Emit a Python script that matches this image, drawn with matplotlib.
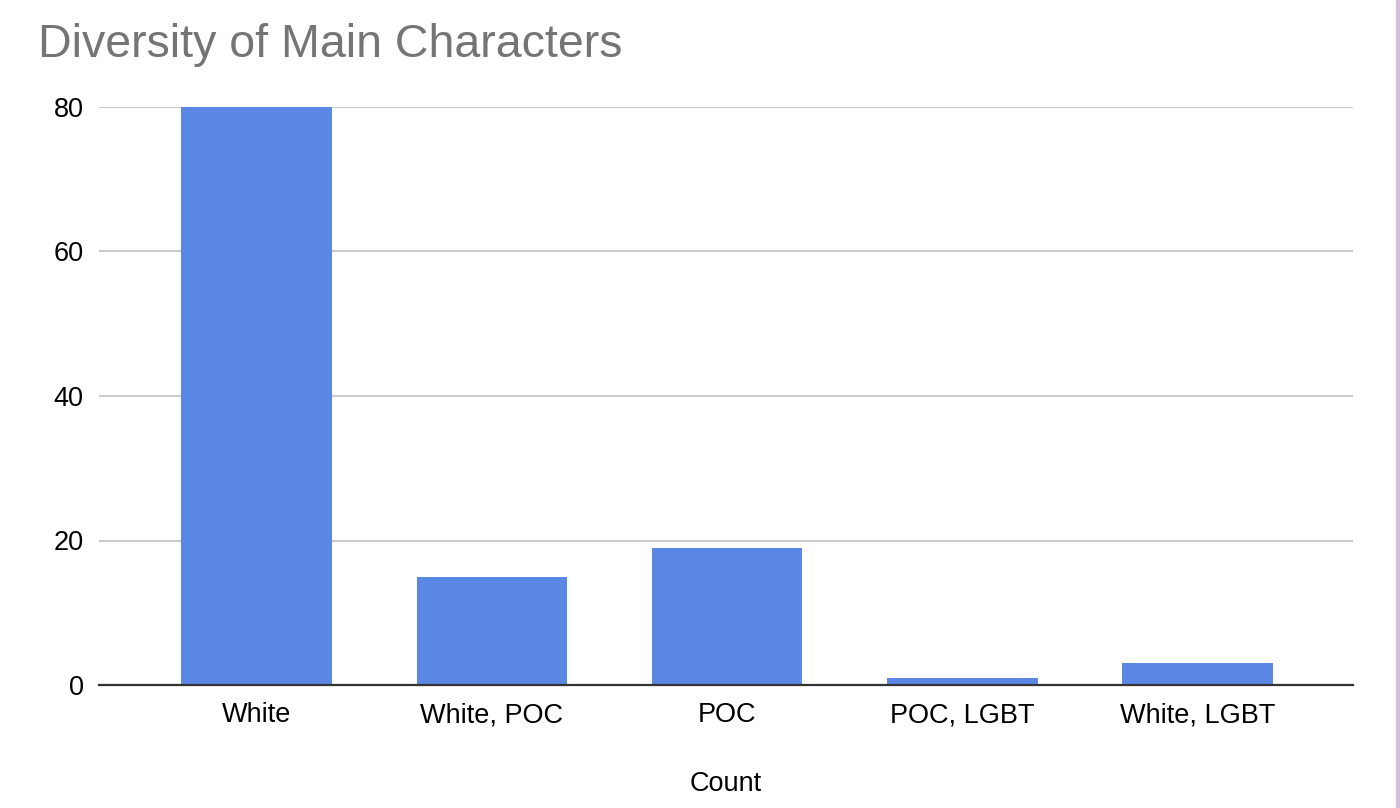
import matplotlib
matplotlib.use("Agg")
import matplotlib.pyplot as plt
from matplotlib.patches import Rectangle

# Chart data
categories = ["White", "White, POC", "POC", "POC, LGBT", "White, LGBT"]
counts = [80, 15, 19, 1, 3]
y_ticks = [0, 20, 40, 60, 80]

bar_color = "#5b87e5"
plt.rcParams['font.family'] = ['Liberation Sans', 'DejaVu Sans']


def main():
    fig = plt.figure(figsize=(14, 8.08), dpi=100)
    ax = fig.add_axes([99 / 1400, 1 - 685 / 808, (1353 - 99) / 1400, (685 - 107) / 808])

    x = list(range(len(categories)))
    ax.bar(x, counts, width=0.64, color=bar_color, zorder=3)

    ax.set_xlim(-0.67, len(categories) - 0.34)
    ax.set_ylim(0, 80)
    ax.set_yticks(y_ticks)
    ax.set_xticks(x)
    ax.set_xticklabels(categories, fontsize=19.5)
    ax.tick_params(axis='y', length=0, pad=11, labelsize=19.5)
    ax.tick_params(axis='x', length=0, pad=12.5)

    # Gridlines and baseline
    ax.grid(axis='y', color='#cccccc', linewidth=1.5, zorder=0)
    for side in ['top', 'right', 'left']:
        ax.spines[side].set_visible(False)
    ax.spines['bottom'].set_color('#333333')
    ax.spines['bottom'].set_linewidth(1.6)
    ax.spines['bottom'].set_zorder(4)

    ax.set_xlabel("Count", fontsize=19.5, labelpad=31)

    fig.text(38 / 1400, 1 - 57 / 808, "Diversity of Main Characters",
             fontsize=33.5, color='#757575', va='baseline', ha='left')

    # Thin lavender strip on the right edge
    fig.patches.append(Rectangle((1396 / 1400, 0), 4 / 1400, 1,
                                 transform=fig.transFigure, color='#d5bedb'))

    fig.savefig("out.png", dpi=100, facecolor='white')
    plt.close(fig)


if __name__ == "__main__":
    main()
